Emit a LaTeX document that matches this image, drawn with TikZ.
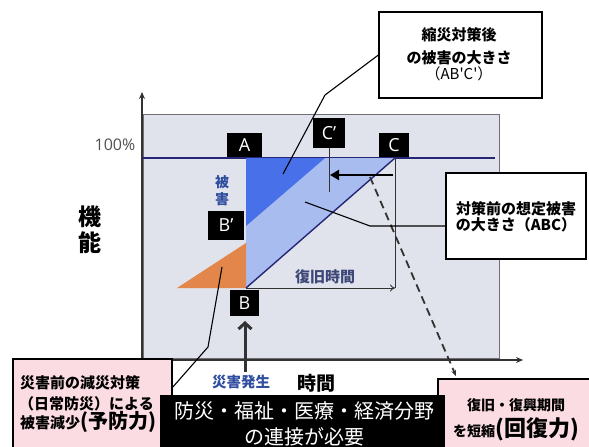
\documentclass[tikz,border=0pt]{standalone}
\usepackage{fontspec}
\setmainfont{Open Sans}
\newfontfamily\jp{Noto Sans CJK JP}
\usetikzlibrary{arrows.meta}
\definecolor{bggray}{RGB}{224,227,236}
\definecolor{bgedge}{RGB}{110,110,115}
\definecolor{navy}{RGB}{38,38,118}
\definecolor{dblue}{RGB}{72,112,232}
\definecolor{lblue}{RGB}{168,188,240}
\definecolor{orng}{RGB}{226,134,76}
\definecolor{pinkbg}{RGB}{251,220,226}
\definecolor{txtblue}{RGB}{48,78,160}
\definecolor{slate}{RGB}{62,72,120}
\definecolor{dgray}{RGB}{50,50,50}
\newcommand{\myfs}[1]{\fontsize{#1}{#1}\selectfont}
\begin{document}
\begin{tikzpicture}[x=1pt,y=-1pt,
  lbl/.style={fill=black,text=white,inner sep=0pt,font=\myfs{18}},
  callout/.style={draw=black,line width=1.3pt,fill=white,inner sep=0pt},
  leader/.style={draw=black,line width=1.1pt},
  jpb/.style={font=\jp\bfseries\myfs{#1}},
  pinkbox/.style={draw=black,fill=pinkbg,line width=1.5pt,inner sep=0pt},
  axis/.style={dgray,line width=1.3pt,-{Stealth[length=7pt,width=6pt]}}
]
\useasboundingbox (0,0) rectangle (589,447);
\clip (0,0) rectangle (589,447);
\fill[white] (0,0) rectangle (589,447);

% plot area
\node[draw=bgedge,line width=0.8pt,fill=bggray,minimum width=356pt,minimum height=244pt,inner sep=0pt] (area) at (321,236) {};

% axes
\coordinate (O) at (142,360);
\coordinate (ytop) at (142,92);
\coordinate (xend) at (523,360);
\draw[axis] (O) -- (ytop);
\draw[axis] (O) -- (xend);

% key points
\coordinate (Lft) at (142,158);
\coordinate (A) at (246,158);
\coordinate (Cp) at (325,158);
\coordinate (C) at (395,158);
\coordinate (Rt) at (495,158);
\coordinate (B) at (246,288);
\coordinate (Bp) at (246,226);
\coordinate (Oa) at (177,288);
\coordinate (Ot) at (246,243);

\draw[navy,line width=2pt] (Lft) -- (Rt);
\fill[lblue] (A) -- (C) -- (B) -- cycle;
\fill[dblue] (A) -- (Cp) -- (Bp) -- cycle;
\fill[orng] (Oa) -- (B) -- (Ot) -- cycle;
\draw[navy,line width=1.4pt] (B) -- (C);

% recovery time
\coordinate (Cb) at (395,288);
\draw[dgray,line width=0.9pt] (C) -- (Cb);
\draw[dgray,line width=0.9pt,-{To[length=5pt,width=7pt]}] (B) -- (Cb);
\node[jpb=15,text=slate] (rt) at (325,277) {復旧時間};

% 100%
\node[font=\myfs{16},text=dgray!85] (pct) at (115,145) {100\%};

% letter boxes
\node[lbl,minimum width=35pt,minimum height=24pt] (boxA) at (244.5,145) {A};
\node[lbl,minimum width=36pt,minimum height=29pt] (boxBp) at (226,225.5) {B’};
\node[lbl,minimum width=29pt,minimum height=26pt] (boxB) at (244.5,303) {B};
\node[lbl,minimum width=32pt,minimum height=30pt] (boxCp) at (329,133) {C’};
\node[lbl,minimum width=30pt,minimum height=24pt] (boxC) at (394,145) {C};

% C' marker
\coordinate (cpl) at (329,192);
\draw[dgray,line width=0.7pt] (boxCp.south) -- (cpl);

% arrow C -> C'
\coordinate (arS) at (393,175);
\coordinate (arE) at (330,175);
\draw[black,line width=2.6pt,-{Triangle[length=9pt,width=10pt]}] (arS) -- (arE);

% dashed
\coordinate (dS) at (370,177);
\coordinate (dE) at (456,376);
\draw[dgray,line width=1.8pt,dash pattern=on 8pt off 5pt,-{Stealth[length=6pt,width=5pt]}] (dS) -- (dE);

% labels
\node[font=\jp\bfseries\fontsize{14}{17}\selectfont,text=txtblue,align=center,inner sep=0pt] (hig) at (222,191) {被\\害};
\node[font=\jp\bfseries\fontsize{23}{26}\selectfont,align=center,inner sep=0pt] (kino) at (90,230) {機\\能};

% callouts
\node[callout,minimum width=163pt,minimum height=86pt] (cb1) at (460.5,55) {};
\node[jpb=15,anchor=base,inner sep=0pt] (cb1a) at (459,40.5) {縮災対策後};
\node[jpb=15,anchor=base,inner sep=0pt] (cb1b) at (459,63) {の被害の大きさ};
\node[font=\jp\myfs{15},anchor=base,inner sep=0pt] (cb1c) at (459,79) {（AB'C'）};

\node[callout,minimum width=140pt,minimum height=86pt] (cb2) at (516,216) {};
\node[jpb=15,anchor=base,inner sep=0pt] (cb2a) at (516,214.5) {対策前の想定被害};
\node[jpb=15,anchor=base,inner sep=0pt] (cb2b) at (516,230.5) {の大きさ（ABC）};

% leaders
\coordinate (k1) at (325,95);
\coordinate (t1) at (283,174);
\draw[leader] (cb1.west) -- (k1) -- (t1);
\coordinate (t2) at (305,202);
\coordinate (k2) at (370,226);
\draw[leader] (t2) -- (k2) -- (k2 -| cb2.west);

% event
\node[jpb=14.5,text=txtblue] (ev) at (241,382) {災害発生};
\coordinate (evt) at (245,372);
\coordinate (arB) at (245,321);
\draw[dgray,line width=3pt,-{Straight Barb[length=6pt,width=13pt]}] (evt) -- (arB);
\node[jpb=19] (jikan) at (316,383) {時間};

% pink box 1
\node[pinkbox,minimum width=159pt,minimum height=111pt] (p1box) at (92.5,414.5) {};
\node[jpb=15,anchor=base west,inner sep=0pt] (p1a) at (20,388) {災害前の減災対策};
\node[jpb=15,anchor=base west,inner sep=0pt] (p1b) at (19,409) {（日常防災）による};
\node[jpb=15,anchor=base west,inner sep=0pt] (p1c) at (20,428) {被害減少{\myfs{20}(予防力)}};
\coordinate (t3) at (222,267);
\coordinate (k3) at (208,347);
\coordinate (e3) at (172,388);
\draw[leader] (t3) -- (k3) -- (e3);

% pink box 2
\node[pinkbox,minimum width=162pt,minimum height=91pt] (p2box) at (519,424.5) {};
\node[jpb=14,anchor=base,inner sep=0pt] (p2a) at (516,410) {復旧・復興期間};
\node[jpb=14,anchor=base,inner sep=0pt] (p2b) at (516,436) {を短縮{\myfs{22}(回復力)}};

% black box
\node[fill=black,minimum width=285pt,minimum height=75pt,inner sep=0pt] (bb) at (302.5,432.5) {};
\node[font=\jp\myfs{20},text=white,anchor=base,inner sep=0pt] (bb1) at (304,418) {防災・福祉・医療・経済分野};
\node[font=\jp\myfs{20},text=white,anchor=base,inner sep=0pt] (bb2) at (304,444) {の連接が必要};
\end{tikzpicture}
\end{document}
